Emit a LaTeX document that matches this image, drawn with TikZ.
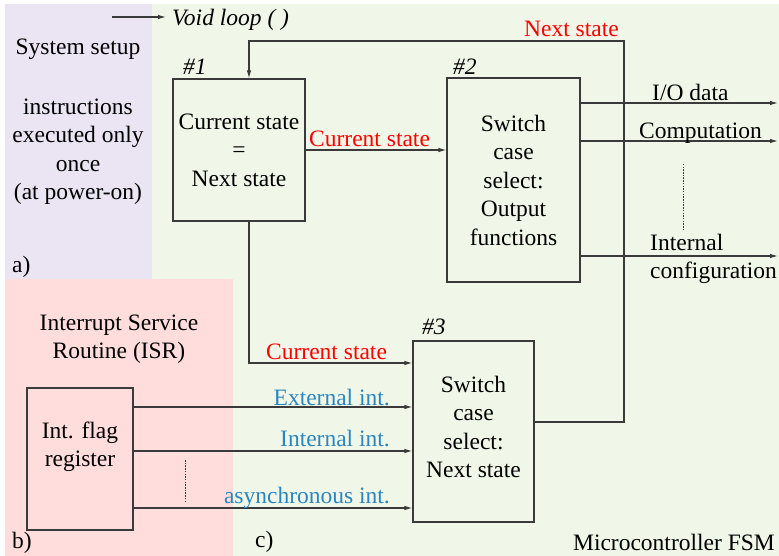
\documentclass[tikz,border=0pt]{standalone}
\usepackage{fontspec}
\setmainfont{Liberation Serif}
\usetikzlibrary{arrows.meta}
\definecolor{purp}{HTML}{EAE4F3}
\definecolor{grn}{HTML}{F0F7E8}
\definecolor{pnk}{HTML}{FFDDDD}
\definecolor{lblue}{HTML}{2A86C0}
\definecolor{lred}{HTML}{FF0000}
\definecolor{ln}{HTML}{3A3A3A}
\begin{document}
\begin{tikzpicture}[x=1bp,y=-1bp,
  every node/.style={font=\fontsize{23.5bp}{28.5bp}\selectfont, inner sep=0pt},
  box/.style={draw=ln, line width=1.1bp, align=center},
  txt/.style={align=center},
  arr/.style={draw=ln, line width=1.1bp, -{Latex[length=8bp,width=4.5bp]}},
  dotline/.style={draw=ln, line width=0.9bp, dash pattern=on 1.5bp off 1.2bp},
  redl/.style={text=lred},
  bluel/.style={text=lblue}]
\useasboundingbox (0,0) rectangle (779,556);
\fill[white] (0,0) rectangle (779,556);
\fill[grn] (152,4) rectangle (779,556);
\fill[purp] (5,4) rectangle (152,279);
\fill[pnk] (5,279) rectangle (233,556);

% left texts
\node[anchor=base] (setup) at (78,55) {System setup};
\node[txt] (instr) at (78,151.5) {instructions\\executed only\\once\\(at power-on)};
\node[anchor=base west] (la) at (12,273) {a)};
\node[txt] (isr) at (119,339) {Interrupt Service\\Routine (ISR)};
\node[anchor=base west] (lb) at (12,548) {b)};
\node[anchor=base west] (lc) at (255,547) {c)};
\node[anchor=base east] (fsm) at (775,550) {Microcontroller FSM};

% void loop
\coordinate (vs) at (112,17);
\node[anchor=base west] (void) at (172,25.5) {\itshape Void loop ( )};
\draw[arr] (vs) -- ([xshift=-6bp]vs -| void.west);

% boxes
\node[box, minimum width=132bp, minimum height=142bp] (b1) at (239,150) {Current state\\=\\Next state};
\node[box, minimum width=133bp, minimum height=204bp] (b2) at (513.5,180) {Switch\\case\\select:\\Output\\functions};
\node[box, minimum width=121bp, minimum height=181bp] (b3) at (473.5,431.5) {};
\node[txt] (b3t) at (473.5,427) {Switch\\case\\select:\\Next state};
\node[box, minimum width=106bp, minimum height=142bp] (ifr) at (80,459) {};
\node[txt] (ifrt) at (80,447) {Int. flag\\register};

\node[anchor=base west] (n1) at (183,75) {\itshape\#1};
\node[anchor=base west] (n2) at (453,75) {\itshape\#2};
\node[anchor=base west] (n3) at (422,334) {\itshape\#3};

% b1 -> b2
\draw[arr] (b1.east) -- (b1.east -| b2.west);
\node[anchor=base west, redl] (cs1) at (309,147) {Current state};

% next state loop
\coordinate (nsTR) at (624,41);
\coordinate (b3o) at ([yshift=9.5bp]b3.east);
\draw[arr] (b3o) -| (nsTR) -| ([xshift=10bp]b1.north);
\node[anchor=base east, redl] (ns) at (619,37) {Next state};

% b1 -> b3
\draw[arr] ([xshift=10bp]b1.south) |- ([yshift=68.5bp]b3.west);
\node[anchor=base west, redl] (cs2) at (266,359) {Current state};

% outputs
\coordinate (o1) at (778,103);
\coordinate (o2) at (778,141);
\coordinate (o3) at (778,256);
\draw[arr] (b2.east |- o1) -- (o1);
\draw[arr] (b2.east |- o2) -- (o2);
\draw[arr] (b2.east |- o3) -- (o3);
\node[anchor=base west] (io) at (652,101) {I/O data};
\node[anchor=base west] (comp) at (639,139) {Computation};
\node[anchor=west, align=left] (intc) at (650,259) {Internal\\configuration};
\draw[dotline] (683,164) -- (683,229);

% interrupts
\coordinate (y1) at (0,407);
\coordinate (y2) at (0,451);
\coordinate (y3) at (0,508);
\draw[arr] (ifr.east |- y1) -- (b3.west |- y1);
\draw[arr] (ifr.east |- y2) -- (b3.west |- y2);
\draw[arr] (ifr.east |- y3) -- (b3.west |- y3);
\node[anchor=base east, bluel] (ext) at (390,405) {External int.};
\node[anchor=base east, bluel] (int) at (390,446) {Internal int.};
\node[anchor=base east, bluel] (asy) at (390,503) {asynchronous int.};
\draw[dotline] (185,460) -- (185,501);
\end{tikzpicture}
\end{document}
